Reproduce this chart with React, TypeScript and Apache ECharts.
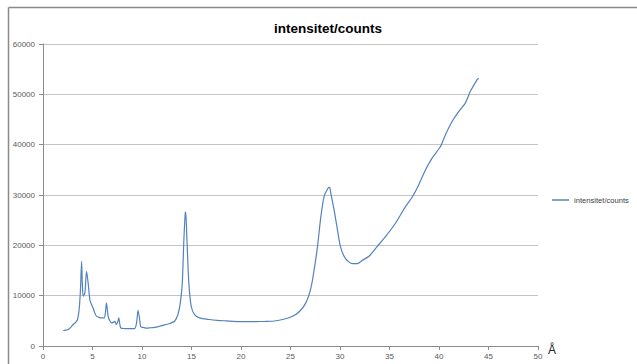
import React, { useEffect, useRef } from "react";
import * as echarts from "echarts";

// Diffraction scan: angle (x) against intensity in counts (y)
const angles = [
  2.05, 2.3, 2.55, 2.8, 3.05, 3.3, 3.49, 3.65, 3.78, 3.9, 3.97, 4.06, 4.23, 4.4, 4.56, 4.73, 4.9,
  5.05, 5.17, 5.4, 5.65, 5.91, 6.17, 6.3, 6.41, 6.58, 6.75, 6.92, 7.1, 7.25, 7.42, 7.55, 7.65,
  7.85, 8.26, 8.8, 9.26, 9.45, 9.6, 9.77, 9.87, 10.1, 10.5, 10.78, 11.28, 11.78, 12.29, 12.79,
  13.29, 13.63, 13.87, 14.07, 14.23, 14.37, 14.42, 14.54, 14.73, 14.97, 15.31, 15.81, 16.82,
  17.6, 18.5, 19.84, 21.52, 22.4, 23.19, 24.2, 25.2, 25.88, 26.55, 27.06, 27.39, 27.73, 28.07,
  28.4, 28.8, 28.95, 29.07, 29.4, 29.74, 30.08, 30.58, 31.25, 31.75, 32.26, 32.93, 33.77, 34.61,
  35.62, 36.63, 37.3, 37.97, 38.64, 39.3, 40.15, 40.65, 41.32, 41.99, 42.66, 43.16, 43.84, 44.0,
];
const counts = [
  3075, 3150, 3270, 3700, 4265, 4700, 5260, 7240, 11000, 16830, 12500, 9880, 10550, 14840, 12540,
  9225, 8230, 7600, 6900, 5910, 5700, 5590, 5590, 6500, 8570, 5900, 5000, 4600, 4700, 4920, 4270,
  4800, 5590, 3610, 3470, 3450, 3470, 4600, 7100, 5200, 3800, 3700, 3550, 3600, 3700, 3930, 4200,
  4460, 4920, 6250, 8570, 12540, 21130, 26430, 26600, 21130, 12540, 7900, 6250, 5590, 5260, 5100,
  5000, 4860, 4860, 4880, 4920, 5260, 5910, 6800, 8570, 11500, 15180, 19800, 25750, 29720, 31390,
  31500, 30400, 27080, 23110, 19480, 17300, 16370, 16370, 17020, 17820, 19800, 21790, 24440,
  27740, 29600, 32100, 35020, 37340, 39640, 41960, 44600, 46580, 48250, 50550, 52870, 53200,
];

const seriesName = "intensitet/counts";
const unitLabel = "Å";

export default function App() {
  const ref = useRef<HTMLDivElement>(null);

  useEffect(() => {
    if (!ref.current) return;
    const chart = echarts.init(ref.current, undefined, { renderer: "svg" });
    const labelStyle = { color: "#595959", fontSize: 8, fontFamily: "Liberation Sans" };
    chart.setOption({
      animation: false,
      backgroundColor: "#ffffff",
      title: {
        text: seriesName,
        left: 323,
        top: 16,
        textAlign: "center",
        textStyle: {
          fontFamily: "Liberation Sans",
          fontWeight: "bold",
          fontSize: 13.5,
          color: "#000000",
        },
      },
      legend: {
        left: 552,
        top: 196,
        padding: 0,
        icon: "rect",
        itemWidth: 17,
        itemHeight: 1.5,
        textStyle: { color: "#404040", fontSize: 7.6, fontFamily: "Liberation Sans" },
        data: [seriesName],
      },
      grid: { left: 43, top: 44, right: 99, bottom: 18, containLabel: false },
      xAxis: {
        type: "value",
        min: 0,
        max: 50,
        interval: 5,
        axisLine: { show: true, lineStyle: { color: "#8c8c8c", width: 1 } },
        axisTick: { show: true, length: 4, lineStyle: { color: "#8c8c8c" } },
        axisLabel: { ...labelStyle, margin: 6 },
        splitLine: { show: false },
      },
      yAxis: {
        type: "value",
        min: 0,
        max: 60000,
        interval: 10000,
        axisLine: { show: true, lineStyle: { color: "#8c8c8c", width: 1 } },
        axisTick: { show: true, length: 4, lineStyle: { color: "#8c8c8c" } },
        axisLabel: { ...labelStyle, margin: 8, formatter: (v: number) => String(v) },
        splitLine: { show: true, lineStyle: { color: "#c4c4c4", width: 1 } },
      },
      series: [
        {
          name: seriesName,
          type: "line",
          data: angles.map((a, i) => [a, counts[i]]),
          showSymbol: false,
          symbol: "none",
          smooth: 0.25,
          lineStyle: { color: "#5382bd", width: 1.2 },
          itemStyle: { color: "#5382bd" },
        },
      ],
      graphic: [
        {
          type: "line",
          shape: { x1: 8.5, y1: 7.5, x2: 637, y2: 7.5 },
          style: { stroke: "#8a8a8a", lineWidth: 1.5 },
        },
        {
          type: "line",
          shape: { x1: 8.5, y1: 7.5, x2: 8.5, y2: 364 },
          style: { stroke: "#8a8a8a", lineWidth: 1.5 },
        },
        {
          type: "text",
          x: 548,
          y: 344,
          style: {
            text: unitLabel,
            fontSize: 12,
            fontFamily: "Liberation Sans",
            fill: "#222222",
          },
        },
      ],
    });
    return () => chart.dispose();
  }, []);

  return (
    <div
      ref={ref}
      style={{ position: "fixed", left: 0, top: 0, width: 637, height: 364 }}
    />
  );
}
